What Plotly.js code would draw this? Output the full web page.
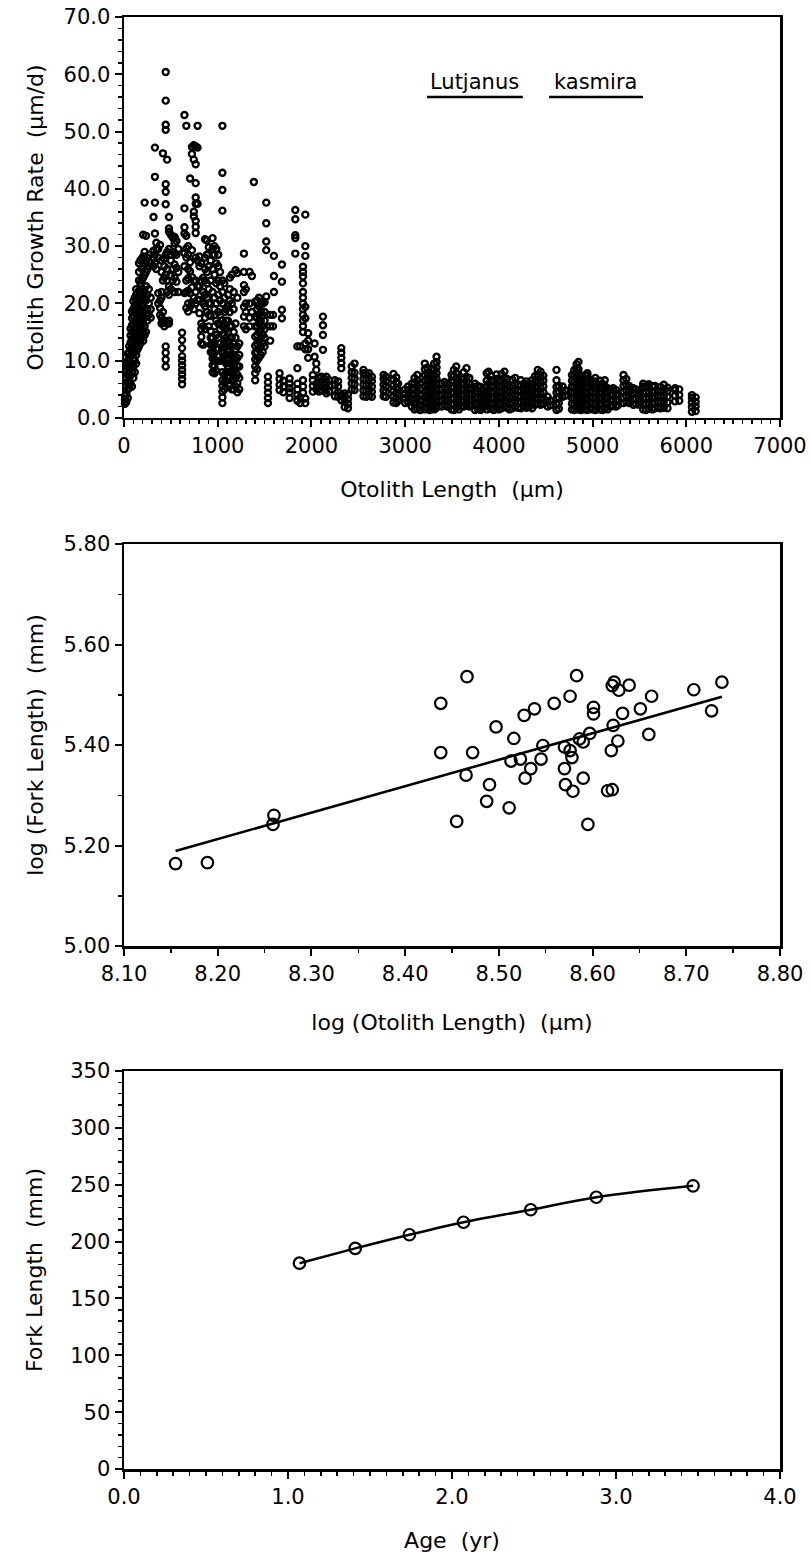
<!DOCTYPE html>
<html><head><meta charset="utf-8">
<script src="https://cdn.plot.ly/plotly-3.0.1.min.js"></script>
<style>html,body{margin:0;padding:0;background:#fff;}</style>
</head><body>
<div id="chart" style="width:810px;height:1554px;"></div>
<script>
// ---------- Panel 1: otolith growth rate vs otolith length (columns of readings) ----------
const growthColLength = [
  10,25,40,55,70,85,100,115,130,145,160,175,190,205,220,235,250,265,285,
  315,330,345,365,385,400,415,430,445,460,480,500,520,540,560,580,620,
  645,665,685,705,725,745,765,785,805,825,845,865,885,905,925,945,965,985,1005,1025,
  1050,1070,1090,1110,1130,1150,1170,1190,1210,1230,1280,1300,1340,1365,1386,
  1400,1420,1440,1460,1480,1500,1518,1536,1560,1590,1600,1660,1685,1700,1767,
  1828,1850,1880,1910,1935,1965,2015,2034,2052,2080,2105,2123,2140,
  2160,2190,2250,2285,2319,2355,2390,2430,2460,2555,2585,2615,2645,2770,2795,
  2875,2905,2925,3000,3030,3070,3100,3130,3160,3210,3235,3260,3285,3310,3335,
  3390,3420,3450,3495,3520,3545,3575,3600,3625,3655,3685,3705,3745,3775,3805,3830,
  3870,3890,3915,3945,3975,4000,4030,4060,4090,4115,4145,4175,4205,4235,4265,4295,
  4325,4355,4385,4415,4445,4475,4520,4550,4615,4640,4680,4710,4780,4805,4830,4850,
  4875,4895,4920,4945,4975,5000,5030,5080,5105,5130,5160,5190,5220,5250,5270,
  5330,5360,5390,5435,5465,5500,5540,5570,5600,5640,5665,5695,5725,5760,5800,
  5880,5925,6060,6100
];
const growthColRates = [
  [2.5,3.2,3.9],
  [2.8,4.2,5.6,7.0,8.4,9.6],
  [3.5,5.0,6.2,7.5,8.8,10.0,11.2],
  [5.2,6.5,7.8,9.0,10.2,11.5,12.5],
  [6.0,7.4,8.6,10.8,12.0,13.2,14.4,15.6],
  [5.5,8.0,9.4,11.0,12.4,13.8,15.0,16.2,17.4,18.6],
  [7.0,9.0,10.4,12.2,13.6,15.0,16.4,17.8,19.0,20.4],
  [8.0,10.0,11.5,13.0,14.4,15.8,17.0,18.4,19.6,21.0],
  [9.5,11.0,12.5,14.0,15.5,17.0,18.5,20.0,21.5,22.5],
  [12.0,13.5,15.0,16.5,18.0,19.5,21.0],
  [12.5,14.0,15.2,16.6,18.0,19.4,20.8,22.2,24.0,25.5,27.0],
  [13.0,14.6,16.0,17.4,19.0,20.5,22.0,23.5,27.5],
  [14.0,15.5,17.0,18.5,20.0,21.5,24.0,26.0,27.8],
  [13.5,15.0,16.5,18.0,19.5,21.0,22.5,24.5,26.5,28.2,32.0],
  [14.5,16.0,17.5,19.0,22.0,25.0,27.0,29.0,37.6],
  [15.0,18.0,20.5,23.0,25.5,27.5,31.8],
  [17.0,19.0,21.5,26.0,28.0],
  [18.0,20.0,22.5,26.5,28.5],
  [17.5,19.0,21.0,27.0],
  [26.5,28.0,29.2,35.1],
  [27.0,28.5,32.2,37.6,42.1,47.2],
  [26.0,29.5,30.6],
  [20.0,21.8,28.0,29.5],
  [18.0,19.2,20.5,30.2],
  [16.5,17.5,21.0,22.0,25.5,27.5],
  [16.8,18.5,24.0,46.2],
  [16.0,17.0,24.5,26.5,27.8],
  [9.0,10.2,11.4,12.5,25.0,28.5,37.3,39.5,40.8,50.3,51.2,55.4,60.4],
  [16.5,22.0,24.0,26.0,29.0,45.1],
  [16.5,17.0,21.5,23.0,29.5,32.5,33.1,35.1],
  [22.5,24.8,27.5,28.5,32.0],
  [24.0,26.0,29.0,31.5],
  [22.0,24.5,26.8,28.8,30.5,31.6],
  [23.8,26.2,28.5,30.9],
  [22.0,25.5,29.5],
  [5.9,6.8,7.6,8.4,9.2,10.0,10.8,12.2,13.6,14.9],
  [21.8,26.5,28.8,32.2,33.3,36.6,52.9],
  [19.2,22.0,24.0,28.0,29.6,31.8,51.0],
  [18.6,20.0,22.2,24.4,26.0,28.5,30.0],
  [19.4,21.8,25.6,27.2,41.8],
  [20.2,22.8,24.6,29.3,46.1,47.3],
  [19.0,21.0,23.9,35.2,36.0,45.1,47.6],
  [20.0,22.0,24.0,28.0,32.3,33.4,34.4,37.4,38.5,41.0,44.3,47.4],
  [20.6,23.0,27.5,37.4,47.2,51.0],
  [18.3,20.6,23.0,26.5,28.2],
  [13.0,14.2,15.5,16.5,24.0,27.0],
  [12.8,16.0,20.0,22.0,24.5],
  [15.5,17.5,19.5,21.5,24.0,26.0,28.0,31.2],
  [18.5,21.0,23.5,25.5,28.5,31.0],
  [16.0,18.0,20.0,22.5,26.5,29.8],
  [11.5,12.8,14.0,15.2,17.8,20.0,24.0,27.5],
  [8.0,9.2,10.4,11.6,12.8,14.0,22.0,26.0,29.5,31.4],
  [7.8,9.0,10.2,11.4,13.0,16.0,19.0,21.0,25.0,28.5,30.0],
  [8.2,10.0,12.0,14.5,17.0,20.0,23.5,27.0,29.5],
  [12.0,14.0,16.5,18.5,21.5,24.0,26.5,28.5],
  [10.0,13.0,15.5,18.0,20.5,23.0,25.5],
  [2.6,3.6,4.6,5.6,6.6,8.0,10.1,11.3,12.5,16.0,17.0,20.0,22.0,24.0,36.2,39.8,42.8,51.0],
  [5.0,6.2,7.5,10.0,11.5,13.0,14.5,16.5,18.5,21.0,23.5],
  [6.5,8.0,9.5,11.0,12.5,14.0,15.5,17.0,19.0],
  [7.0,9.0,10.5,12.0,13.5,15.0,17.0,19.5,21.5],
  [6.0,8.0,9.5,11.0,12.5,14.0,16.0,18.5,20.5,22.5,24.5],
  [5.0,6.5,8.0,9.5,11.0,12.5,14.0,16.0,20.0,25.0],
  [5.0,6.5,8.0,9.5,11.0,13.0,15.0,19.0,22.0],
  [5.5,7.0,8.5,10.0,12.0,14.0,16.5,25.8],
  [4.5,6.0,7.5,9.0,10.5,12.5,21.0,25.3],
  [5.0,7.0,9.0,11.0,13.0],
  [16.0,17.7,19.4,22.0,23.2,25.5,28.7],
  [15.5,18.5,20.0,22.5],
  [16.0,17.5,20.0,25.5],
  [18.5,24.8],
  [41.2],
  [6.6,7.8,9.0,10.2,11.4,12.6,14.2,16.0,17.7,20.3],
  [8.5,10.0,11.5,13.0,14.5,16.0,17.5,19.0,20.5],
  [10.5,12.0,13.5,15.0,16.5,18.0,19.5,21.0],
  [11.0,12.5,14.0,15.5,17.0,18.5,20.0],
  [11.5,13.0,14.5,16.0,18.0,20.0],
  [12.5,14.0,15.5,17.0,18.5,20.2],
  [21.2,29.3,30.8,34.0,37.6],
  [2.6,3.5,4.4,5.3,6.2,7.2],
  [13.5,16.0,18.0],
  [16.0,18.0],
  [22.0,24.8,28.3],
  [4.9,5.8,6.8,7.8],
  [17.4,18.9,23.8,26.8],
  [4.5,5.5,6.5],
  [3.5,4.5,5.2,6.0,6.9],
  [28.7,31.4,31.9,34.7,36.3],
  [3.0,4.0,5.0,6.0,8.7,12.5],
  [2.6,3.6,12.5],
  [4.4,5.5,6.6,15.0,16.0,17.0,18.0,19.0,20.0,21.0,22.0,23.5,24.7,25.5,26.4],
  [2.6,3.4,12.0,13.0,17.4,19.4,28.3,30.0,35.5],
  [10.5,12.0,13.5,14.8],
  [4.6,5.6,6.6,7.5],
  [10.7,13.0],
  [5.0,6.0,8.4,9.5],
  [4.6,5.4,6.2,7.0],
  [4.8,5.6,6.4,7.2],
  [11.9,14.5,16.2,17.7],
  [4.8,5.8,6.8],
  [4.3,5.3,6.3,7.2],
  [4.6,5.6,6.6],
  [3.8,4.8,5.8,6.6],
  [3.7,4.6,5.5,6.4],
  [3.1,4.0,8.7,9.6,10.5,11.4,12.2],
  [1.9,2.8,3.7,4.3],
  [1.7,2.5,3.3,4.1],
  [5.0,6.0,7.0,8.0,9.0],
  [4.9,5.9,6.9,7.9,9.5],
  [3.8,4.8,5.8,6.8,7.8,8.4],
  [3.7,4.7,5.7,6.7,7.6],
  [3.9,4.9,5.9,6.9,7.8],
  [3.7,4.6,5.5,6.4,7.2],
  [3.8,4.8,5.8,6.8,7.5],
  [3.7,4.6,5.5,6.4,7.2],
  [2.7,3.7,4.7,5.7,6.7,7.7],
  [2.6,3.5,4.4,5.3,6.2,7.1],
  [3.0,4.0,5.0,6.0],
  [2.6,3.4,4.2,5.0],
  [2.8,3.8,4.8,5.5],
  [2.0,3.0,4.0,5.0,6.0],
  [1.5,2.4,3.3,4.2,5.1,6.1,7.0],
  [1.6,2.6,3.6,4.6,5.6,6.6,7.5],
  [1.4,2.3,3.2,4.1,5.0,6.0],
  [1.5,2.5,3.5,4.5,5.5,6.5,7.5,8.5,9.5],
  [1.8,2.8,3.8,4.8,5.8,6.8,7.8,8.8],
  [1.4,2.4,3.4,4.4,5.4,6.4,7.4],
  [1.6,2.6,3.6,4.6,5.6,6.6,7.6,8.6],
  [1.5,2.5,3.5,4.5,5.5,6.5,7.5,8.5,9.5],
  [1.8,2.8,3.8,4.8,5.8,6.8,7.8,8.8,9.8,10.7],
  [2.0,3.0,4.0,5.0,6.0],
  [2.2,3.2,4.2,5.2,6.3],
  [2.0,3.0,4.0,5.0,6.0],
  [1.5,2.5,3.5,4.5,5.5,6.5,7.5],
  [1.4,2.4,3.4,4.4,5.4,6.4,7.4,8.4],
  [1.8,2.8,3.8,4.8,5.8,6.8,7.8,9.0],
  [1.5,2.5,3.5,4.5,5.5,6.5],
  [2.0,3.0,4.0,5.0,6.0,7.0],
  [2.0,3.0,4.0,5.0,6.0,7.0,8.0],
  [2.2,3.2,4.2,5.2,6.2,7.2,8.7],
  [2.0,3.0,4.0,5.0,6.0,7.0],
  [2.3,3.3,4.3,5.3],
  [1.4,2.4,3.4,4.4,5.4,6.0],
  [1.6,2.6,3.6,4.6,5.6],
  [1.4,2.4,3.4,4.4,5.4],
  [1.8,2.8,3.8,4.8],
  [1.5,2.5,3.5,4.5,5.5,6.5,7.8],
  [2.0,3.0,4.0,5.0,6.0,8.1],
  [1.6,2.6,3.6,4.6,5.6,6.6,7.4],
  [1.4,2.4,3.4,4.4,5.4,6.4],
  [1.8,2.8,3.8,4.8,5.8,6.8,7.6],
  [1.5,2.5,3.5,4.5,5.5,6.5],
  [1.7,2.7,3.7,4.7,5.7,6.7,7.7],
  [2.0,3.0,4.0,5.0,6.0,7.0,8.1],
  [1.8,2.8,3.8,4.8,5.8,6.8],
  [1.5,2.5,3.5,4.5,5.5],
  [1.7,2.7,3.7,4.7,5.7,6.7],
  [2.0,3.0,4.0,5.0,6.0,7.0],
  [1.8,2.8,3.8,4.8,5.8],
  [1.7,2.7,3.7,4.7,5.7,6.6],
  [2.0,3.0,4.0,5.0,6.0],
  [1.8,2.8,3.8,4.8,5.8,6.4],
  [2.0,3.0,4.0,5.0,6.0],
  [1.7,2.7,3.7,4.7,5.7,6.6],
  [2.3,3.3,4.3,5.3,6.3,7.3],
  [2.5,3.5,4.5,5.5,6.5,7.5,8.4],
  [2.3,3.3,4.3,5.3,6.3,7.3,8.1],
  [2.5,3.5,4.5,5.5,6.5,7.4],
  [2.0,2.9,3.7],
  [2.2,3.0],
  [1.4,2.4,3.4,4.4,5.4,6.6,8.4],
  [1.6,2.6,3.6,4.6,5.6],
  [3.7,4.6,5.5],
  [3.9,4.8],
  [1.5,2.5,3.5,4.5,5.5,6.5,7.5],
  [1.4,2.4,3.4,4.4,5.4,6.4,7.4,8.4],
  [1.6,2.6,3.6,4.6,5.6,6.6,7.6,8.6,9.4],
  [1.5,2.5,3.5,4.5,5.5,6.5,7.5,8.5,9.8],
  [1.4,2.4,3.4,4.4,5.4,6.4,7.4],
  [1.8,2.8,3.8,4.8,5.8,6.8],
  [1.5,2.5,3.5,4.5,5.5,6.5,7.5],
  [1.4,2.4,3.4,4.4,5.4,6.4,7.4,7.8],
  [1.6,2.6,3.6,4.6,5.6,6.6],
  [1.5,2.5,3.5,4.5,5.5,6.2],
  [1.4,2.4,3.4,4.4,5.4,6.4,7.0],
  [1.5,2.5,3.5,4.5,5.5,6.5],
  [1.4,2.4,3.4,4.4,5.4,6.0],
  [1.6,2.6,3.6,4.6,5.6,6.6],
  [1.5,2.5,3.5,4.5,5.2],
  [2.0,3.0,4.0,5.0],
  [2.1,3.1,4.1,5.2],
  [2.0,3.0,4.0,4.9],
  [2.2,3.2,4.2],
  [2.6,3.6,4.6,5.6,6.6,7.5],
  [2.8,3.8,4.8,5.8,6.8],
  [2.6,3.6,4.6,5.6],
  [2.3,3.3,4.3,5.2],
  [2.4,3.4,4.4,5.0],
  [2.3,3.3,4.3],
  [1.5,2.5,3.5,4.5,5.5,6.0],
  [1.4,2.4,3.4,4.4,5.4],
  [1.6,2.6,3.6,4.6,5.6,5.9],
  [1.5,2.5,3.5,4.5,5.5],
  [1.7,2.7,3.7,4.7,5.6],
  [1.8,2.8,3.8,4.8],
  [1.7,2.7,3.7,4.7,5.4],
  [1.8,2.8,3.8,4.8,5.8],
  [1.7,2.7,3.7,4.7,5.3],
  [2.9,3.9,4.9,5.2],
  [3.0,4.0,5.0],
  [1.1,1.9,2.7,3.5,4.0],
  [1.2,2.0,2.8,3.6]
];

// ---------- Panel 2: log fork length vs log otolith length ----------
const logOtolith = [8.155,8.189,8.260,8.259,8.438,8.438,8.466,8.465,8.455,8.472,8.487,8.490,8.497,8.511,8.513,8.516,8.523,8.527,8.528,8.534,8.538,8.545,8.547,8.559,8.570,8.570,8.571,8.576,8.576,8.579,8.578,8.583,8.586,8.590,8.590,8.595,8.597,8.601,8.601,8.616,8.621,8.620,8.622,8.621,8.623,8.627,8.628,8.632,8.639,8.651,8.660,8.663,8.708,8.727,8.738];
const logFork    = [5.164,5.166,5.260,5.242,5.483,5.385,5.536,5.340,5.248,5.385,5.288,5.321,5.436,5.275,5.368,5.413,5.372,5.459,5.334,5.353,5.472,5.372,5.399,5.483,5.353,5.396,5.321,5.497,5.389,5.308,5.375,5.538,5.412,5.406,5.334,5.242,5.423,5.475,5.462,5.309,5.311,5.389,5.439,5.518,5.525,5.408,5.509,5.463,5.519,5.472,5.421,5.497,5.510,5.468,5.525];
const fitLogOtolith = [8.155, 8.738];
const fitLogFork    = [5.189, 5.496];

// ---------- Panel 3: fork length at age ----------
const ageYr = [1.07,1.41,1.74,2.07,2.48,2.88,3.47];
const forkLengthMm = [181,194,206,217,228,239,249];

// flatten panel 1 columns
const growthX = [], growthY = [];
growthColLength.forEach((x, i) => { growthColRates[i].forEach(y => { growthX.push(x); growthY.push(y); }); });

const FONT = 'DejaVu Sans, sans-serif';
const TICKSIZE = 21, TITLESIZE = 22;

function ax(opts) {
  return Object.assign({
    showline: true, linecolor: '#000', linewidth: 2.5, mirror: true,
    ticks: 'outside', ticklen: 7, tickwidth: 2, tickcolor: '#000',
    showgrid: false, zeroline: false, fixedrange: true,
    tickfont: {family: FONT, size: TICKSIZE, color: '#000'},
  }, opts);
}
function minor(d) { return {dtick: d, ticks: 'outside', ticklen: 4, tickwidth: 1.5, tickcolor: '#000', showgrid: false}; }
function ttl(text, standoff) { return {text: text, font: {family: FONT, size: TITLESIZE, color: '#000'}, standoff: standoff}; }

const traces = [
  {x: growthX, y: growthY, xaxis: 'x', yaxis: 'y', type: 'scatter', mode: 'markers', cliponaxis: false,
   marker: {symbol: 'circle-open', size: 6, color: '#000', line: {width: 2.4, color: '#000'}}, hoverinfo: 'skip'},
  {x: logOtolith, y: logFork, xaxis: 'x2', yaxis: 'y2', type: 'scatter', mode: 'markers', cliponaxis: false,
   marker: {symbol: 'circle-open', size: 11.5, color: '#000', line: {width: 2.2, color: '#000'}}, hoverinfo: 'skip'},
  {x: fitLogOtolith, y: fitLogFork, xaxis: 'x2', yaxis: 'y2', type: 'scatter', mode: 'lines',
   line: {color: '#000', width: 2.5}, hoverinfo: 'skip'},
  {x: ageYr, y: forkLengthMm, xaxis: 'x3', yaxis: 'y3', type: 'scatter', mode: 'lines+markers',
   line: {color: '#000', width: 2.5, shape: 'spline'},
   marker: {symbol: 'circle-open', size: 11.5, color: '#000', line: {width: 2.2, color: '#000'}}, hoverinfo: 'skip'}
];

const layout = {
  width: 810, height: 1554, autosize: false, showlegend: false,
  paper_bgcolor: '#fff', plot_bgcolor: '#fff',
  margin: {l: 124, r: 30, t: 17, b: 85},
  font: {family: FONT, color: '#000'},
  xaxis:  ax({domain: [0, 1], anchor: 'y',  range: [0, 7000], dtick: 1000, tickformat: 'd', minor: minor(100),
              title: ttl('Otolith Length  (μm)', 25)}),
  yaxis:  ax({domain: [0.72383, 1], anchor: 'x', range: [0, 70], dtick: 10, tickformat: '.1f', minor: minor(2),
              title: ttl('Otolith Growth Rate  (μm/d)', 14)}),
  xaxis2: ax({domain: [0, 1], anchor: 'y2', range: [8.1, 8.8], dtick: 0.1, tickformat: '.2f', minor: minor(0.05),
              title: ttl('log (Otolith Length)  (μm)', 30)}),
  yaxis2: ax({domain: [0.36019, 0.63705], anchor: 'x2', range: [5.0, 5.8], dtick: 0.2, tickformat: '.2f', minor: minor(0.1),
              title: ttl('log (Fork Length)  (mm)', 14)}),
  xaxis3: ax({domain: [0, 1], anchor: 'y3', range: [0, 4], dtick: 1, tickformat: '.1f', minor: minor(0.1),
              title: ttl('Age  (yr)', 25)}),
  yaxis3: ax({domain: [0, 0.27410], anchor: 'x3', range: [0, 350], dtick: 50, tickformat: 'd', minor: minor(10),
              title: ttl('Fork Length  (mm)', 22)}),
  annotations: [
    {xref: 'x domain', yref: 'y domain', x: 0.535, y: 0.838, text: 'Lutjanus', showarrow: false,
     font: {family: FONT, size: 21, color: '#000'}, xanchor: 'center', yanchor: 'middle'},
    {xref: 'x domain', yref: 'y domain', x: 0.7187, y: 0.838, text: 'kasmira', showarrow: false,
     font: {family: FONT, size: 21, color: '#000'}, xanchor: 'center', yanchor: 'middle'}
  ],
  shapes: [
    {type: 'line', xref: 'x domain', yref: 'y domain', x0: 0.462, x1: 0.608, y0: 0.8005, y1: 0.8005, line: {color: '#000', width: 2.5}},
    {type: 'line', xref: 'x domain', yref: 'y domain', x0: 0.648, x1: 0.791, y0: 0.8005, y1: 0.8005, line: {color: '#000', width: 2.5}}
  ]
};

Plotly.newPlot('chart', traces, layout, {staticPlot: true, displayModeBar: false});
</script>
</body></html>
